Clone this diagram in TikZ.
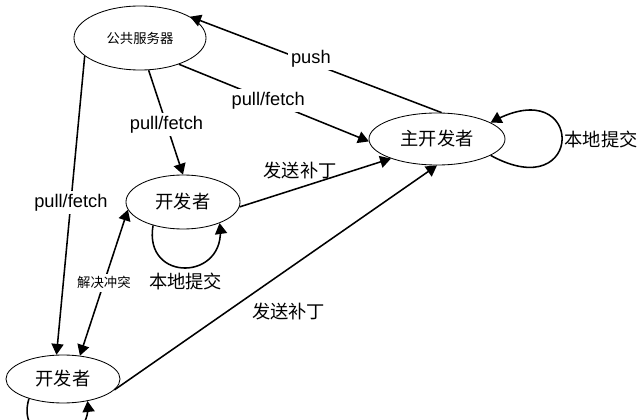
\documentclass[tikz,border=0pt]{standalone}
\usepackage{fontspec}
\setmainfont{Liberation Sans}
\newfontfamily\cjk{Noto Sans CJK SC}
\usepackage{tikz}
\usetikzlibrary{arrows,shapes.geometric}
\tikzstyle{es} = [-triangle 60]
\tikzstyle{bs} = [triangle 60-triangle 60]
\tikzstyle{st} = [draw, ellipse, line width=0.6pt, inner sep=0pt]
\tikzstyle{lb} = [fill=white, inner sep=2pt]

\begin{document}
\begin{tikzpicture}[x=0.025cm, y=-0.025cm, line width=1.1pt, font=\fontsize{13}{15}\selectfont]
			\clip (0,0) rectangle (640,420);
			\node[st, minimum width=3.3cm, minimum height=1.6cm] (server) at (140,38) {\cjk\fontsize{9.5}{11}\selectfont 公共服务器};
			\node[st, minimum width=3.4cm, minimum height=1.3cm] (lead) at (437,139) {\cjk 主开发者};
			\node[st, minimum width=2.85cm, minimum height=1.35cm] (devA) at (183,202) {\cjk 开发者};
			\node[st, minimum width=2.85cm, minimum height=1.2cm] (devB) at (63,379) {\cjk 开发者};
			\draw [es](lead.80) -- node[lb, pos=.52, yshift=3pt] {push} (server.23);
			\draw [es](server.-34) -- node[lb, pos=.47] {pull/fetch} (lead.182);
			\draw [es](server.-75) -- node[lb, pos=.52] {pull/fetch} (devA.north);
			\draw [es](server.198) -- node[lb, pos=.49] {pull/fetch} (devB.105);
			\draw [bs](devB.54) -- node[lb, pos=.5] {\cjk\fontsize{9.5}{11}\selectfont 解决冲突} (devA.188);
			\draw [es](devA.-5) -- node[above=2pt, pos=.4] {\cjk 发送补丁} (lead.203);
			\draw [es](devB.-12) -- node[below right, pos=.41] {\cjk 发送补丁} (lead.south);
			\draw [es](lead.-17) .. controls +(95,52) and +(95,-52) .. (lead.17) node[right=-2pt, pos=.5] {\cjk 本地提交};
			\draw [es](devA.-142) .. controls +(-10,58) and +(8,58) .. (devA.-30) node[below, pos=.5] {\cjk 本地提交};
			\draw [es](devB.-150) .. controls +(-15,50) and +(5,50) .. (devB.-42);
		\end{tikzpicture}
\end{document}
